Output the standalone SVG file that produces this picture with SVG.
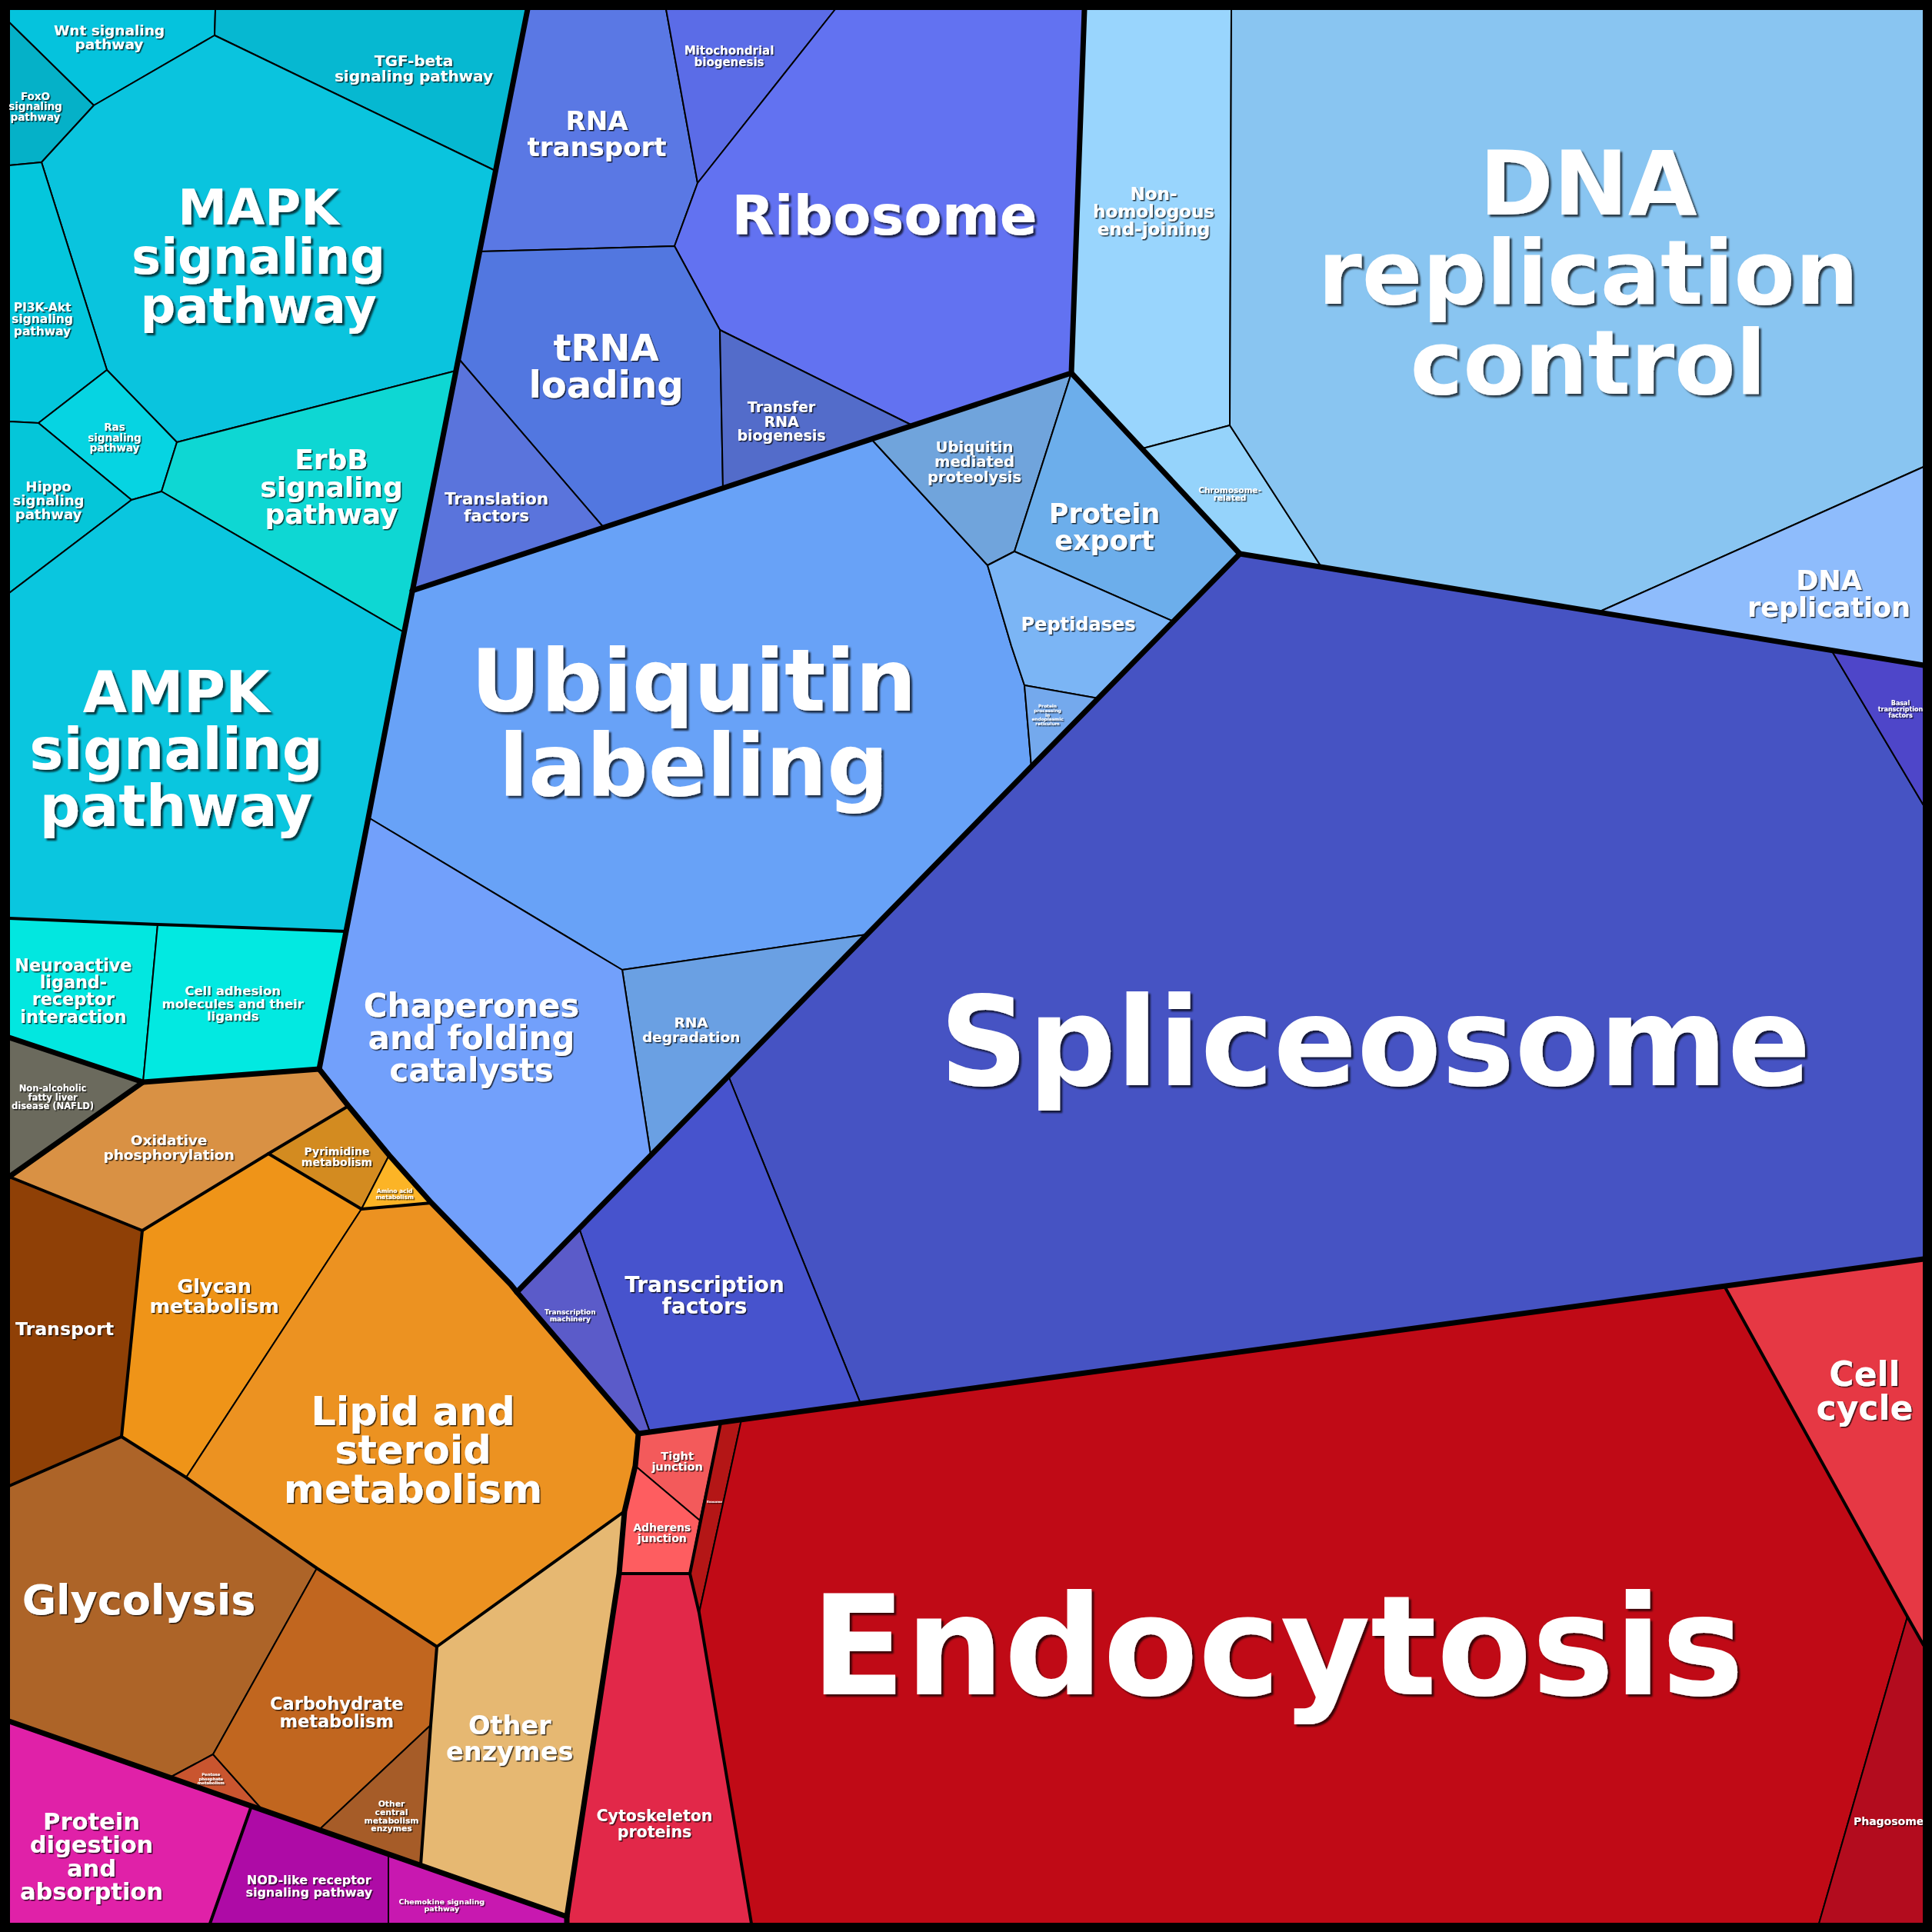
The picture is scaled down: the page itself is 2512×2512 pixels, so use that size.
<svg xmlns="http://www.w3.org/2000/svg" width="2512" height="2512" viewBox="0 0 2512 2512">
<defs>
<filter id="sh" x="-10%" y="-10%" width="130%" height="140%"><feDropShadow dx="1.5" dy="1.5" stdDeviation="0.6" flood-color="#000" flood-opacity="0.75"/></filter>
<filter id="shb" x="-10%" y="-10%" width="130%" height="140%"><feDropShadow dx="3" dy="3" stdDeviation="1" flood-color="#000" flood-opacity="0.7"/></filter>
</defs>
<style>
polygon{stroke:#000;stroke-width:2;stroke-linejoin:round}
text{font-family:'DejaVu Sans','Liberation Sans',sans-serif;font-weight:bold;fill:#fff;text-anchor:middle;filter:url(#sh)}
text.big{filter:url(#shb)}
.thick{fill:none;stroke:#000;stroke-width:7;stroke-linejoin:round;stroke-linecap:round}
.med{fill:none;stroke:#000;stroke-width:4;stroke-linejoin:round;stroke-linecap:round}
</style>
<rect x="0" y="0" width="2512" height="2512" fill="#000"/>

<g id="wnt"><polygon fill="#05c3dd" points="12,12 280,12 279,46 122,137 12,29"/><text font-size="18.5"><tspan x="142" y="45.5">Wnt signaling</tspan><tspan x="142" y="64">pathway</tspan></text></g>
<g id="tgf-beta"><polygon fill="#06b8d1" points="280,12 686,12 644,222 279,46"/><text font-size="20"><tspan x="538" y="85.7">TGF-beta</tspan><tspan x="538" y="105.5">signaling pathway</tspan></text></g>
<g id="foxo"><polygon fill="#05b1c8" points="12,29 122,137 54,211 12,215"/><text font-size="13.5"><tspan x="46" y="129.6">FoxO</tspan><tspan x="46" y="143.3">signaling</tspan><tspan x="46" y="157">pathway</tspan></text></g>
<g id="mapk"><polygon fill="#0ac4de" points="122,137 279,46 644,222 593,482 230,575 139,481 54,211"/><text class="big" font-size="64"><tspan x="336" y="292">MAPK</tspan><tspan x="336" y="356">signaling</tspan><tspan x="336" y="420">pathway</tspan></text></g>
<g id="pi3k-akt"><polygon fill="#04c6dc" points="12,215 54,211 139,481 50,550 12,548"/><text font-size="15.5"><tspan x="55" y="404.5">PI3K-Akt</tspan><tspan x="55" y="420">signaling</tspan><tspan x="55" y="435.5">pathway</tspan></text></g>
<g id="ras"><polygon fill="#06d4e2" points="50,550 139,481 230,575 210,639 171,650"/><text font-size="13.5"><tspan x="149" y="560">Ras</tspan><tspan x="149" y="573.5">signaling</tspan><tspan x="149" y="587">pathway</tspan></text></g>
<g id="hippo"><polygon fill="#05c6d9" points="12,548 50,550 171,650 12,771"/><text font-size="18"><tspan x="63" y="639">Hippo</tspan><tspan x="63" y="657">signaling</tspan><tspan x="63" y="675">pathway</tspan></text></g>
<g id="erbb"><polygon fill="#0ed7d3" points="230,575 593,482 525,822 210,639"/><text font-size="36"><tspan x="431" y="609.6">ErbB</tspan><tspan x="431" y="645.5">signaling</tspan><tspan x="431" y="681.4">pathway</tspan></text></g>
<g id="ampk"><polygon fill="#0ac6df" points="12,771 171,650 210,639 525,822 522,840 479,1063 450,1211 205,1202 12,1194"/><text class="big" font-size="74"><tspan x="229" y="926.4">AMPK</tspan><tspan x="229" y="1000">signaling</tspan><tspan x="229" y="1073.7">pathway</tspan></text></g>
<g id="neuroactive"><polygon fill="#02e7e0" points="12,1194 205,1202 186,1407 12,1349"/><text font-size="22.3"><tspan x="95.4" y="1262.8">Neuroactive</tspan><tspan x="95.4" y="1285.1">ligand-</tspan><tspan x="95.4" y="1307.4">receptor</tspan><tspan x="95.4" y="1329.7">interaction</tspan></text></g>
<g id="cell-adhesion"><polygon fill="#02e9e1" points="205,1202 450,1211 415,1390 186,1407"/><text font-size="16.5"><tspan x="302.7" y="1294">Cell adhesion</tspan><tspan x="302.7" y="1310.5">molecules and their</tspan><tspan x="302.7" y="1327">ligands</tspan></text></g>
<g id="nafld"><polygon fill="#6b6a5d" points="12,1349 186,1407 12,1530"/><text font-size="11.5"><tspan x="68.6" y="1419">Non-alcoholic</tspan><tspan x="68.6" y="1430.5">fatty liver</tspan><tspan x="68.6" y="1442">disease (NAFLD)</tspan></text></g>

<g id="oxidative-phosphorylation"><polygon fill="#d99144" points="186,1407 415,1390 453,1438 349,1500 185,1600 12,1530"/><text font-size="18.5"><tspan x="219.6" y="1489">Oxidative</tspan><tspan x="219.6" y="1507.5">phosphorylation</tspan></text></g>
<g id="pyrimidine"><polygon fill="#d38b20" points="453,1438 506,1502 470,1572 349,1500"/><text font-size="14"><tspan x="438" y="1502">Pyrimidine</tspan><tspan x="438" y="1516">metabolism</tspan></text></g>
<g id="amino-acid"><polygon fill="#fcb426" points="506,1502 561,1564 470,1572"/><text font-size="7.5"><tspan x="513" y="1551">Amino acid</tspan><tspan x="513" y="1558.5">metabolism</tspan></text></g>
<g id="glycan"><polygon fill="#ef9418" points="185,1600 349,1500 470,1572 242,1921 158,1868"/><text font-size="25.5"><tspan x="278.6" y="1681">Glycan</tspan><tspan x="278.6" y="1706.5">metabolism</tspan></text></g>
<g id="lipid"><polygon fill="#ec9221" points="470,1572 561,1564 664,1670 672,1680 830,1864 826,1906 812,1965 568,2141 412,2039 242,1921"/><text font-size="51"><tspan x="537" y="1852.6">Lipid and</tspan><tspan x="537" y="1903.4">steroid</tspan><tspan x="537" y="1953.8">metabolism</tspan></text></g>
<g id="transport"><polygon fill="#8f4006" points="12,1530 185,1600 158,1868 12,1932"/><text font-size="23.6"><tspan x="84" y="1735.5">Transport</tspan></text></g>
<g id="glycolysis"><polygon fill="#ad6428" points="12,1932 158,1868 242,1921 412,2039 277,2281 221,2311 12,2238"/><text font-size="54"><tspan x="180.5" y="2098.5">Glycolysis</tspan></text></g>
<g id="pentose"><polygon fill="#c9552f" points="221,2311 277,2281 342,2354"/><text font-size="5.3"><tspan x="274.3" y="2309.3">Pentose</tspan><tspan x="274.3" y="2314.6">phosphate</tspan><tspan x="274.3" y="2319.9">metabolism</tspan></text></g>
<g id="carbohydrate"><polygon fill="#c1661f" points="412,2039 568,2141 560,2243 415,2379 342,2354 277,2281"/><text font-size="22.5"><tspan x="437.7" y="2223">Carbohydrate</tspan><tspan x="437.7" y="2245.5">metabolism</tspan></text></g>
<g id="other-central"><polygon fill="#a65c28" points="560,2243 547,2425 415,2379"/><text font-size="10.8"><tspan x="509" y="2349">Other</tspan><tspan x="509" y="2359.8">central</tspan><tspan x="509" y="2370.6">metabolism</tspan><tspan x="509" y="2381.4">enzymes</tspan></text></g>
<g id="other-enzymes"><polygon fill="#e6b872" points="568,2141 812,1965 805,2046 737,2492 547,2425 560,2243"/><text font-size="33.5"><tspan x="662.7" y="2255">Other</tspan><tspan x="662.7" y="2288.5">enzymes</tspan></text></g>

<g id="protein-digestion"><polygon fill="#e021a8" points="12,2238 327,2348 273,2501 12,2501"/><text font-size="30.5"><tspan x="119" y="2378.8">Protein</tspan><tspan x="119" y="2409.3">digestion</tspan><tspan x="119" y="2439.8">and</tspan><tspan x="119" y="2470.3">absorption</tspan></text></g>
<g id="nod-like"><polygon fill="#ae0ba6" points="327,2348 505,2411 505,2501 273,2501"/><text font-size="16"><tspan x="401.8" y="2449.7">NOD-like receptor</tspan><tspan x="401.8" y="2465.7">signaling pathway</tspan></text></g>
<g id="chemokine"><polygon fill="#c818b0" points="505,2411 737,2492 737,2501 505,2501"/><text font-size="9.5"><tspan x="574.3" y="2475.5">Chemokine signaling</tspan><tspan x="574.3" y="2485">pathway</tspan></text></g>

<g id="rna-transport"><polygon fill="#5a78e4" points="686,12 866,12 907,238 877,320 624,327"/><text font-size="34"><tspan x="776" y="168.7">RNA</tspan><tspan x="776" y="202.5">transport</tspan></text></g>
<g id="mitochondrial"><polygon fill="#5b6ce7" points="866,12 1086,12 907,238"/><text font-size="15"><tspan x="948" y="71">Mitochondrial</tspan><tspan x="948" y="86">biogenesis</tspan></text></g>
<g id="ribosome"><polygon fill="#6272f1" points="1086,12 1410,12 1393,485 1186,553 936,429 877,320 907,238"/><text class="big" font-size="72"><tspan x="1150" y="305">Ribosome</tspan></text></g>
<g id="trna-loading"><polygon fill="#5277e0" points="624,327 877,320 936,429 940,635 785,686 596,466"/><text font-size="48"><tspan x="788" y="468.7">tRNA</tspan><tspan x="788" y="517">loading</tspan></text></g>
<g id="transfer-rna"><polygon fill="#536cca" points="936,429 1186,553 940,635"/><text font-size="19"><tspan x="1016" y="535.7">Transfer</tspan><tspan x="1016" y="554.5">RNA</tspan><tspan x="1016" y="573.3">biogenesis</tspan></text></g>
<g id="translation-factors"><polygon fill="#5a74dc" points="596,466 785,686 536,768"/><text font-size="21.5"><tspan x="645.5" y="656">Translation</tspan><tspan x="645.5" y="677.5">factors</tspan></text></g>

<g id="ubiquitin-labeling"><polygon fill="#68a2f7" points="536,768 1133,571 1284,735 1315,840 1332,891 1341,997 1127,1215 809,1261 479,1063 522,840"/><text class="big" font-size="112"><tspan x="902" y="923.7">Ubiquitin</tspan><tspan x="902" y="1033.6">labeling</tspan></text></g>
<g id="ubiquitin-mediated"><polygon fill="#70a4dc" points="1133,571 1186,553 1393,485 1319,717 1284,735"/><text font-size="19.5"><tspan x="1267" y="587.7">Ubiquitin</tspan><tspan x="1267" y="607.2">mediated</tspan><tspan x="1267" y="626.7">proteolysis</tspan></text></g>
<g id="protein-export"><polygon fill="#6caeeb" points="1393,485 1612,720 1526,808 1319,717"/><text font-size="35"><tspan x="1436" y="680">Protein</tspan><tspan x="1436" y="715">export</tspan></text></g>
<g id="peptidases"><polygon fill="#7bb5f5" points="1284,735 1319,717 1526,808 1428,908 1332,891 1315,840"/><text font-size="24"><tspan x="1402" y="819.6">Peptidases</tspan></text></g>
<g id="protein-processing-er"><polygon fill="#74a9ed" points="1332,891 1428,908 1341,997"/><text font-size="5.8"><tspan x="1362" y="920">Protein</tspan><tspan x="1362" y="925.8">processing</tspan><tspan x="1362" y="931.6">in</tspan><tspan x="1362" y="937.4">endoplasmic</tspan><tspan x="1362" y="943.2">reticulum</tspan></text></g>
<g id="rna-degradation"><polygon fill="#6aa0e3" points="809,1261 1127,1215 846,1502"/><text font-size="18.5"><tspan x="898.6" y="1336">RNA</tspan><tspan x="898.6" y="1354.5">degradation</tspan></text></g>
<g id="chaperones"><polygon fill="#72a0fb" points="479,1063 809,1261 846,1502 753,1597 672,1680 664,1670 561,1564 506,1502 453,1438 415,1390 450,1211"/><text font-size="42"><tspan x="613" y="1321.8">Chaperones</tspan><tspan x="613" y="1363.8">and folding</tspan><tspan x="613" y="1405.8">catalysts</tspan></text></g>

<g id="spliceosome"><polygon fill="#4653c3" points="1612,720 2381,845 2501,1047 2501,1637 1119,1825 947,1399"/><text class="big" font-size="160"><tspan x="1788" y="1411">Spliceosome</tspan></text></g>
<g id="transcription-factors"><polygon fill="#4753cd" points="947,1399 1119,1825 845,1862 753,1597"/><text font-size="28"><tspan x="916" y="1680.4">Transcription</tspan><tspan x="916" y="1708.4">factors</tspan></text></g>
<g id="transcription-machinery"><polygon fill="#5b5bc9" points="753,1597 845,1862 830,1864 672,1680"/><text font-size="9"><tspan x="741.3" y="1709">Transcription</tspan><tspan x="741.3" y="1718">machinery</tspan></text></g>
<g id="basal-transcription"><polygon fill="#4e46c9" points="2381,845 2501,865 2501,1047"/><text font-size="8"><tspan x="2471" y="916.8">Basal</tspan><tspan x="2471" y="924.8">transcription</tspan><tspan x="2471" y="932.8">factors</tspan></text></g>

<g id="nhej"><polygon fill="#99d5fd" points="1410,12 1601,12 1599,553 1486,583 1393,485"/><text font-size="23"><tspan x="1500" y="260">Non-</tspan><tspan x="1500" y="283">homologous</tspan><tspan x="1500" y="306">end-joining</tspan></text></g>
<g id="chromosome-related"><polygon fill="#95d3fb" points="1486,583 1599,553 1718,737 1612,720"/><text font-size="10.5"><tspan x="1599" y="640.7">Chromosome-</tspan><tspan x="1599" y="651.2">related</tspan></text></g>
<g id="dna-replication-control"><polygon fill="#89c5f1" points="1601,12 2501,12 2501,607 2078,796 1718,737 1599,553"/><text class="big" font-size="116"><tspan x="2065" y="278.6">DNA</tspan><tspan x="2065" y="395">replication</tspan><tspan x="2065" y="511.5">control</tspan></text></g>
<g id="dna-replication"><polygon fill="#8ebcfc" points="2078,796 2501,607 2501,865"/><text font-size="35"><tspan x="2378" y="767">DNA</tspan><tspan x="2378" y="802">replication</tspan></text></g>

<g id="tight-junction"><polygon fill="#f35a5b" points="830,1864 937,1850 910,1977 826,1906"/><text font-size="14.5"><tspan x="880.6" y="1897.7">Tight</tspan><tspan x="880.6" y="1912.2">junction</tspan></text></g>
<g id="adherens-junction"><polygon fill="#fe5d60" points="826,1906 910,1977 897,2046 805,2046 812,1965"/><text font-size="14"><tspan x="860.7" y="1991">Adherens</tspan><tspan x="860.7" y="2005">junction</tspan></text></g>
<g id="exosome"><polygon fill="#b41616" points="937,1850 964,1846 909,2097 897,2046"/><text font-size="4"><tspan x="929" y="1954">Exosome</tspan></text></g>
<g id="cytoskeleton"><polygon fill="#e22849" points="805,2046 897,2046 909,2097 977,2501 737,2501 737,2492"/><text font-size="20.5"><tspan x="851" y="2368">Cytoskeleton</tspan><tspan x="851" y="2388.5">proteins</tspan></text></g>
<g id="endocytosis"><polygon fill="#c00a16" points="964,1846 1119,1825 2242,1672 2480,2102 2365,2501 977,2501 909,2097"/><text class="big" font-size="180"><tspan x="1661" y="2203">Endocytosis</tspan></text></g>
<g id="cell-cycle"><polygon fill="#e63844" points="2242,1672 2501,1637 2501,2139 2480,2102"/><text font-size="44"><tspan x="2424.5" y="1802">Cell</tspan><tspan x="2424.5" y="1846">cycle</tspan></text></g>
<g id="phagosome"><polygon fill="#b30c1e" points="2480,2102 2501,2139 2501,2501 2365,2501"/><text font-size="14"><tspan x="2455.6" y="2372.6">Phagosome</tspan></text></g>

<g id="connectors">
<polyline class="med" points="12,1194 205,1202 450,1211"/>
<polyline class="med" points="12,1530 185,1600 349,1500 453,1438"/>
<polyline class="med" points="349,1500 470,1572 561,1564"/>
<polyline class="med" points="185,1600 158,1868 12,1932"/>
<polyline class="med" points="158,1868 242,1921 412,2039 568,2141 812,1965"/>
<polyline class="med" points="568,2141 560,2243 547,2425"/>
<polyline class="med" points="327,2348 273,2501"/>
<polyline class="med" points="937,1850 897,2046"/>
<polyline class="med" points="805,2046 897,2046 909,2097 977,2501"/>
<polyline class="med" points="2242,1672 2480,2102 2501,2139"/>
<polyline class="thick" points="686,12 522,840 479,1063 450,1211 415,1390"/>
<polyline class="thick" points="12,1349 186,1407 415,1390"/>
<polyline class="thick" points="186,1407 12,1530"/>
<polyline class="thick" points="415,1390 453,1438 506,1502 561,1564 664,1670 672,1680 830,1864 826,1906 812,1965 805,2046 737,2492 737,2501"/>
<polyline class="thick" points="12,2238 737,2492"/>
<polyline class="thick" points="536,768 1393,485 1410,12"/>
<polyline class="thick" points="1393,485 1612,720 2501,865"/>
<polyline class="thick" points="1612,720 672,1680"/>
<polyline class="thick" points="830,1864 2501,1637"/>
</g>
<rect x="6" y="6" width="2500" height="2500" fill="none" stroke="#000" stroke-width="12"/>
</svg>
